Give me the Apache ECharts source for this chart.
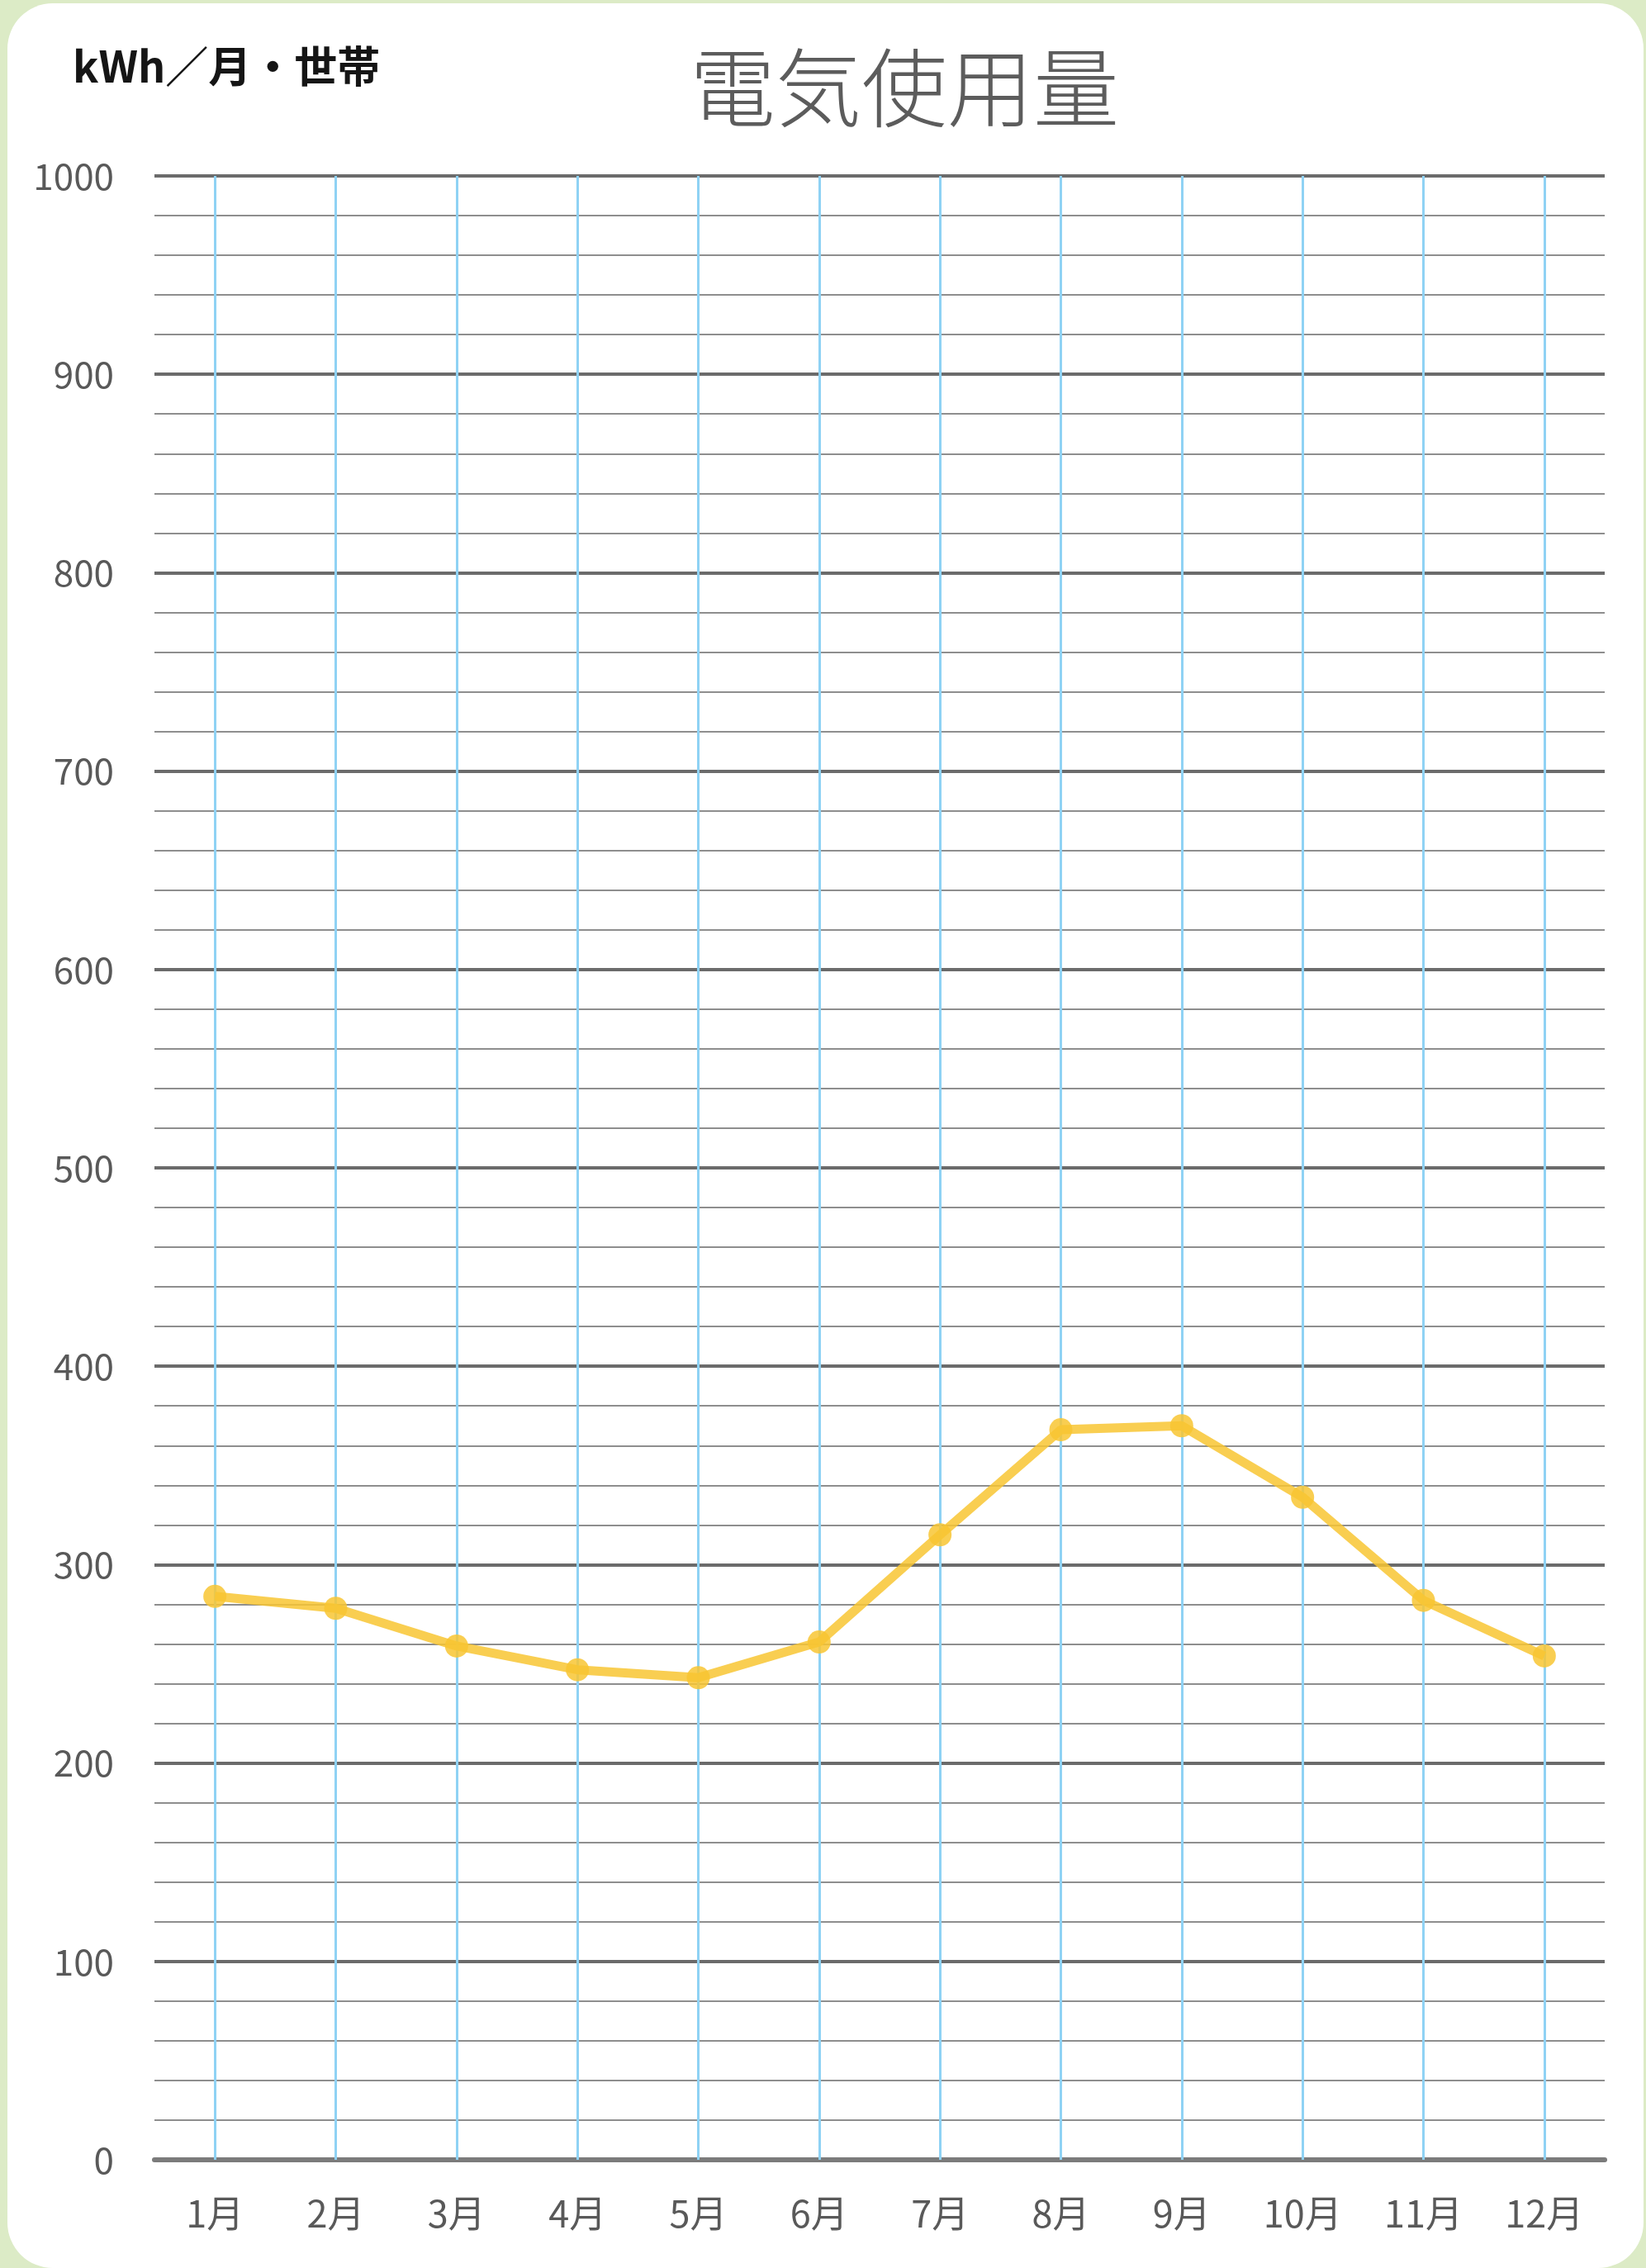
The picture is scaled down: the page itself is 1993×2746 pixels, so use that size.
<!DOCTYPE html>
<html>
<head>
<meta charset="utf-8">
<title>電気使用量</title>
<script src="https://cdn.jsdelivr.net/npm/echarts@6/dist/echarts.min.js"></script>
<style>
  html, body { margin: 0; padding: 0; width: 1993px; height: 2746px; background: #dcebc6; overflow: hidden; }
  .card { position: absolute; left: 9px; top: 4px; right: 3px; bottom: 0; background: #fff; border-radius: 55px; }
  #chart { position: absolute; left: 0; top: 0; width: 1993px; height: 2746px; }
</style>
</head>
<body>
<div class="card"></div>
<div id="chart"></div>
<script>
// 月別の電気使用量 (kWh/月・世帯)
const months = ['1月', '2月', '3月', '4月', '5月', '6月', '7月', '8月', '9月', '10月', '11月', '12月']
const usage = [284, 278, 259, 247, 243, 261, 315, 368, 370, 334, 282, 254]
const yTicks = [0, 1000, 100] // min, max, interval
const titleText = '電気使用量'
const unitText = 'kWh／月・世帯'

const FONT = '"Noto Sans CJK JP", "Noto Sans", sans-serif'
const gridBox = { left: 187, right: 50, top: 213, bottom: 131 }
const plotHeight = 2746 - gridBox.top - gridBox.bottom

const chart = echarts.init(document.getElementById('chart'), null, { renderer: 'canvas' })

const option = {
  backgroundColor: 'transparent',
  animation: false,
  graphic: [
    {
      type: 'text',
      x: 1095,
      y: 106,
      style: {
        text: titleText,
        font: '300 104px ' + FONT,
        fill: '#5c5c5c',
        textAlign: 'center',
        textVerticalAlign: 'middle'
      }
    },
    {
      type: 'text',
      x: 88,
      y: 80,
      style: {
        text: unitText,
        font: 'bold 52px ' + FONT,
        fill: '#151515',
        textAlign: 'left',
        textVerticalAlign: 'middle'
      }
    }
  ],
  grid: {
    left: gridBox.left,
    right: gridBox.right,
    top: gridBox.top,
    bottom: gridBox.bottom,
    containLabel: false
  },
  xAxis: {
    type: 'category',
    data: months,
    boundaryGap: true,
    axisLine: {
      show: true,
      lineStyle: { color: '#7b7b7b', width: 6 }
    },
    // 水色の縦線は目盛り線を上まで伸ばして描く
    axisTick: {
      show: true,
      alignWithLabel: true,
      inside: true,
      length: plotHeight,
      lineStyle: { color: '#8fd2f4', width: 3 }
    },
    axisLabel: {
      margin: 42,
      fontSize: 45,
      fontFamily: FONT,
      color: '#595959'
    },
    splitLine: { show: false }
  },
  yAxis: {
    type: 'value',
    min: yTicks[0],
    max: yTicks[1],
    interval: yTicks[2],
    axisLine: { show: false },
    axisTick: { show: false },
    axisLabel: {
      margin: 49,
      fontSize: 44,
      fontFamily: FONT,
      color: '#595959',
      formatter: (v) => String(v)
    },
    splitLine: {
      show: true,
      lineStyle: { color: '#6b6b6b', width: 4 }
    },
    minorTick: { show: false, splitNumber: 5 },
    minorSplitLine: {
      show: true,
      lineStyle: { color: '#8e8e8e', width: 2 }
    }
  },
  series: [
    {
      type: 'line',
      data: usage,
      symbol: 'circle',
      symbolSize: 28,
      z: 5,
      lineStyle: { color: '#f8c632', width: 11, opacity: 0.85 },
      itemStyle: { color: '#f8c632', opacity: 0.85 }
    }
  ]
}

chart.setOption(option)
</script>
</body>
</html>
